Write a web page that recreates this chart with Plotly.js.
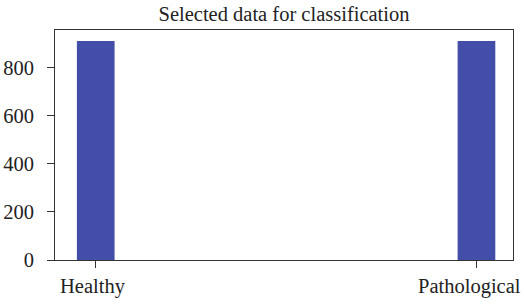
<!DOCTYPE html>
<html><head><meta charset="utf-8">
<script src="https://cdn.plot.ly/plotly-3.0.1.min.js"></script>
<style>html,body{margin:0;padding:0;background:#fff;}#chart{width:524px;height:304px;}</style>
</head><body><div id="chart"></div>
<script>
const categories = ['Healthy', 'Pathological'];
const counts = [912, 912];
const yTicks = [0, 200, 400, 600, 800];
const chartTitle = 'Selected data for classification';

const fontFam = '"Liberation Serif", "Times New Roman", serif';
const labelShift = [-3, -7];
const annotations = categories.map((c, i) => ({
  x: c, xref: 'x', y: 0, yref: 'paper', yanchor: 'top', xanchor: 'center',
  xshift: labelShift[i], yshift: -13, text: c, showarrow: false,
  font: {family: fontFam, size: 20.5, color: '#222'}
}));
Plotly.newPlot('chart', [{
  type: 'bar', x: categories, y: counts, width: 0.099,
  marker: {color: '#434ea8', line: {width: 0}}, hoverinfo: 'none'
}], {
  width: 524, height: 304,
  margin: {l: 55, r: 11, t: 30, b: 44, pad: 0},
  paper_bgcolor: '#fff', plot_bgcolor: '#fff',
  font: {family: fontFam, size: 20.5, color: '#222'},
  title: {text: chartTitle, x: 0.542, xanchor: 'center', y: 0.93, yanchor: 'bottom', font: {family: fontFam, size: 20.5, color: '#222'}},
  showlegend: false,
  annotations: annotations,
  xaxis: {type: 'category', range: [-0.107, 1.096], showgrid: false, zeroline: false,
    showline: true, mirror: true, linecolor: '#333', linewidth: 1, showticklabels: false,
    ticks: 'outside', ticklen: 7, tickcolor: '#333', tickwidth: 1},
  yaxis: {range: [0, 958], tickvals: yTicks, showgrid: false, zeroline: false,
    showline: true, mirror: true, linecolor: '#333', linewidth: 1,
    ticks: 'outside', ticklen: 7, tickcolor: '#333', tickwidth: 1, ticklabelstandoff: 9}
}, {displayModeBar: false, staticPlot: true});
</script></body></html>
